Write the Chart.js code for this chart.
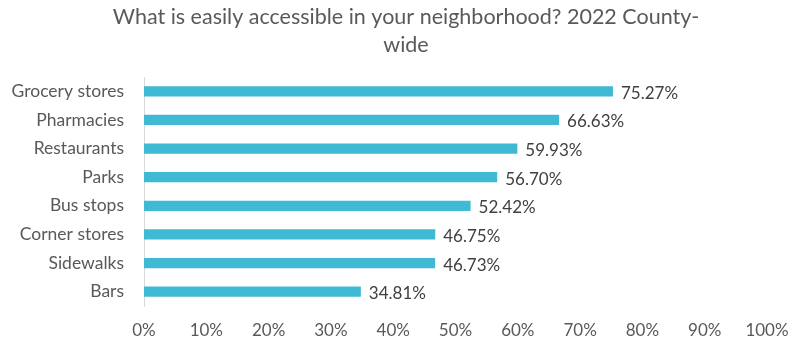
<!DOCTYPE html>
<html>
<head>
<meta charset="utf-8">
<script src="https://cdn.jsdelivr.net/npm/chart.js@4/dist/chart.umd.min.js"></script>
<style>
  html, body { margin: 0; padding: 0; background: #ffffff; }
  #wrap { width: 797px; height: 345px; }
</style>
</head>
<body>
<div id="wrap"><canvas id="chart" width="797" height="345"></canvas></div>
<script>
// chart data
const categories = ['Grocery stores', 'Pharmacies', 'Restaurants', 'Parks', 'Bus stops', 'Corner stores', 'Sidewalks', 'Bars'];
const shares = [75.27, 66.63, 59.93, 56.70, 52.42, 46.75, 46.73, 34.81];
const titleLines = ['What is easily accessible in your neighborhood? 2022 County-', 'wide'];

const fontFamily = 'Lato, "Open Sans", sans-serif';
const barColor = '#40B9D4';

// the title sits a bit right of the canvas centre, so it is drawn here
const chartTitle = {
    id: 'chartTitle',
    afterDraw(chart) {
        const ctx = chart.ctx;
        ctx.save();
        ctx.font = '21.5px ' + fontFamily;
        ctx.fillStyle = '#595959';
        ctx.textAlign = 'center';
        ctx.textBaseline = 'middle';
        titleLines.forEach((line, i) => {
            ctx.fillText(line, 406, 17 + i * 28);
        });
        ctx.restore();
    }
};

// draws the value at the end of each bar
const valueLabels = {
    id: 'valueLabels',
    afterDatasetsDraw(chart) {
        const ctx = chart.ctx;
        const meta = chart.getDatasetMeta(0);
        ctx.save();
        ctx.font = '17px ' + fontFamily;
        ctx.fillStyle = '#404040';
        ctx.textAlign = 'left';
        ctx.textBaseline = 'middle';
        meta.data.forEach((bar, i) => {
            ctx.fillText(shares[i].toFixed(2) + '%', bar.x + 8, bar.y + 2);
        });
        ctx.restore();
    }
};

new Chart(document.getElementById('chart').getContext('2d'), {
    type: 'bar',
    data: {
        labels: categories,
        datasets: [{
            data: shares,
            backgroundColor: barColor,
            borderWidth: 0,
            barPercentage: 0.72,
            categoryPercentage: 0.5
        }]
    },
    options: {
        indexAxis: 'y',
        responsive: false,
        animation: false,
        layout: { padding: { left: 0, right: 30, top: 77, bottom: 6 } },
        plugins: {
            legend: { display: false },
            tooltip: { enabled: false },
            title: { display: false }
        },
        scales: {
            x: {
                min: 0,
                max: 100,
                afterFit: s => { s.height = 33; s.paddingRight = 0; s.paddingLeft = 0; },
                ticks: {
                    stepSize: 10,
                    color: '#595959',
                    padding: 14,
                    maxRotation: 0,
                    font: { family: fontFamily, size: 17 },
                    callback: v => v + '%'
                },
                grid: { display: false, drawTicks: false },
                border: { display: false }
            },
            y: {
                afterFit: s => { s.width = 144; },
                ticks: {
                    color: '#595959',
                    padding: 20,
                    font: { family: fontFamily, size: 17.5 }
                },
                grid: { display: false, drawTicks: false },
                border: { display: true, color: '#D9D9D9', width: 1 }
            }
        }
    },
    plugins: [valueLabels, chartTitle]
});
</script>
</body>
</html>
